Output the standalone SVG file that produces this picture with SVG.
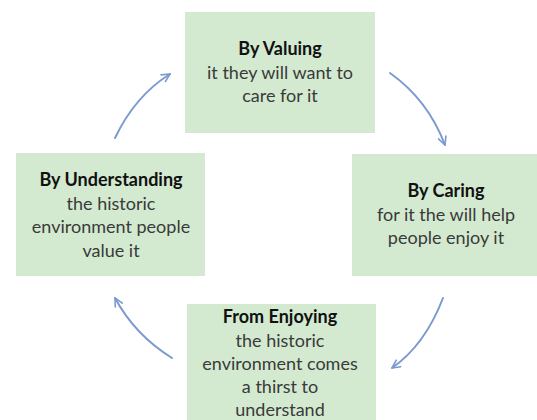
<svg xmlns="http://www.w3.org/2000/svg" width="537" height="420" viewBox="0 0 537 420">
<style>
.box{fill:#d3ead0}
text{font-family:"Lato","Open Sans","DejaVu Sans",sans-serif;font-size:18px;text-anchor:middle;fill:#3a3a3a}
.t{font-weight:bold;fill:#111}
.arr{fill:none;stroke:#7b9bd0;stroke-width:2;stroke-linecap:round;marker-end:url(#ah)}
</style>
<defs>
<marker id="ah" viewBox="0 0 10 10" refX="9" refY="5" markerWidth="5" markerHeight="5" markerUnits="strokeWidth" orient="auto">
<path d="M1,1 L9,5 L1,9" fill="none" stroke="#7b9bd0" stroke-width="1.6" stroke-linecap="round" stroke-linejoin="round"/>
</marker>
</defs>
<g id="connectors">
<path class="arr" d="M115,138 Q135,96 170,74"/>
<path class="arr" d="M390,73 Q428,100 445,145"/>
<path class="arr" d="M443,298 Q425,345 392,368"/>
<path class="arr" d="M172,358 Q135,335 115,298"/>
</g>
<g id="valuing">
<rect class="box" x="185" y="12" width="190" height="121"/>
<text class="t" x="280" y="55">By Valuing</text>
<text x="280" y="79">it they will want to</text>
<text x="280" y="102">care for it</text>
</g>
<g id="caring">
<rect class="box" x="352" y="154" width="190" height="122"/>
<text class="t" x="446" y="197">By Caring</text>
<text x="446" y="221">for it the will help</text>
<text x="446" y="244">people enjoy it</text>
</g>
<g id="enjoying">
<rect class="box" x="187" y="304" width="189" height="120"/>
<text class="t" x="280" y="323">From Enjoying</text>
<text x="280" y="347">the historic</text>
<text x="280" y="370">environment comes</text>
<text x="280" y="393">a thirst to</text>
<text x="280" y="416">understand</text>
</g>
<g id="understanding">
<rect class="box" x="16" y="153" width="189" height="123"/>
<text class="t" x="111" y="186">By Understanding</text>
<text x="111" y="210">the historic</text>
<text x="111" y="233">environment people</text>
<text x="111" y="257">value it</text>
</g>
</svg>
